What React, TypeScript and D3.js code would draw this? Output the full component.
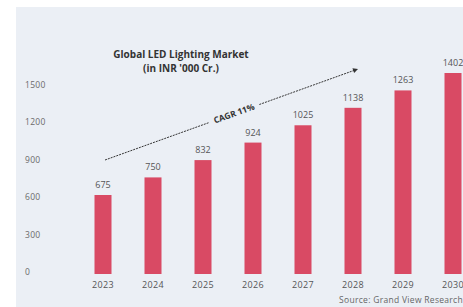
import React, { useRef, useEffect } from "react";
import * as d3 from "d3";

const years = ["2023", "2024", "2025", "2026", "2027", "2028", "2029", "2030"];
const values = [675, 750, 832, 924, 1025, 1138, 1263, 1402];
const yTicks = [0, 300, 600, 900, 1200, 1500];
const titleLines = ["Global LED Lighting Market", "(in INR '000 Cr.)"];
const cagrLabel = "CAGR 11%";
const source = "Source: Grand View Research";

const App = () => {
  const ref = useRef<SVGSVGElement>(null);

  useEffect(() => {
    const svg = d3.select(ref.current);
    svg.selectAll("*").remove();

    const width = 463;
    const height = 307;
    const font = "'Open Sans', sans-serif";

    svg.attr("width", width).attr("height", height);

    // panel
    svg
      .append("rect")
      .attr("x", 16)
      .attr("y", 7)
      .attr("width", width - 16)
      .attr("height", height - 7)
      .attr("fill", "#ebeff5");

    const x = d3.scaleBand().domain(years).range([78, 478]).paddingInner(0.66).paddingOuter(0.33);

    // axis labels
    const y = d3.scaleLinear().domain([0, 1500]).range([272, 85]);
    // bars grow evenly year to year in the original artwork -> log scale
    const yBar = d3.scaleLog().domain([675, 1402]).range([195, 73]);
    const base = 274;

    svg
      .append("g")
      .selectAll("text")
      .data(yTicks)
      .join("text")
      .attr("x", 25)
      .attr("y", (d) => y(d))
      .attr("dy", "0.35em")
      .attr("font-family", font)
      .attr("font-size", "8.5px")
      .attr("letter-spacing", "0.3px")
      .attr("fill", "#6a6a6a")
      .text((d) => d);

    svg
      .append("g")
      .selectAll("rect")
      .data(values)
      .join("rect")
      .attr("x", (d, i) => x(years[i]))
      .attr("y", (d) => yBar(d))
      .attr("width", x.bandwidth())
      .attr("height", (d) => base - yBar(d))
      .attr("fill", "#d94a64");

    svg
      .append("g")
      .selectAll("text")
      .data(values)
      .join("text")
      .attr("x", (d, i) => x(years[i]) + x.bandwidth() / 2)
      .attr("y", (d) => yBar(d) - 7)
      .attr("text-anchor", "middle")
      .attr("font-family", font)
      .attr("font-size", "9px")
      .attr("fill", "#555")
      .text((d) => d);

    svg
      .append("g")
      .selectAll("text")
      .data(years)
      .join("text")
      .attr("x", (d) => x(d) + x.bandwidth() / 2)
      .attr("y", 288)
      .attr("text-anchor", "middle")
      .attr("font-family", font)
      .attr("font-size", "9px")
      .attr("letter-spacing", "0.3px")
      .attr("fill", "#555")
      .text((d) => d);

    // title
    svg
      .append("text")
      .attr("x", 181)
      .attr("y", 58)
      .attr("text-anchor", "middle")
      .attr("font-family", font)
      .attr("font-size", "10px")
      .attr("font-weight", "bold")
      .attr("fill", "#333")
      .selectAll("tspan")
      .data(titleLines)
      .join("tspan")
      .attr("x", 181)
      .attr("dy", (d, i) => (i === 0 ? 0 : 14))
      .text((d) => d);

    // CAGR arrow
    const x0 = 105, y0 = 160, x1 = 358, y1 = 69;
    const angle = (Math.atan2(y1 - y0, x1 - x0) * 180) / Math.PI;
    const len = Math.hypot(x1 - x0, y1 - y0);
    const g = svg.append("g").attr("transform", `translate(${x0},${y0}) rotate(${angle})`);
    const gapA = len * 0.41, gapB = len * 0.61;
    g.append("line").attr("x1", 0).attr("x2", gapA).attr("y1", 0).attr("y2", 0);
    g.append("line").attr("x1", gapB).attr("x2", len - 3).attr("y1", 0).attr("y2", 0);
    g.selectAll("line")
      .attr("stroke", "#333")
      .attr("stroke-width", 0.9)
      .attr("stroke-dasharray", "2,1");
    g.append("path")
      .attr("d", `M${len},0 L${len - 5},-2.5 L${len - 5},2.5 Z`)
      .attr("fill", "#333");
    g.append("text")
      .attr("x", (gapA + gapB) / 2)
      .attr("y", 0)
      .attr("dy", "0.35em")
      .attr("text-anchor", "middle")
      .attr("font-family", font)
      .attr("font-size", "8.5px")
      .attr("font-weight", "bold")
      .attr("fill", "#333")
      .text(cagrLabel);

    svg
      .append("text")
      .attr("x", 463)
      .attr("y", 303)
      .attr("text-anchor", "end")
      .attr("font-family", font)
      .attr("font-size", "8.5px")
      .attr("letter-spacing", "0.3px")
      .attr("fill", "#666")
      .text(source);
  }, []);

  return <svg ref={ref} style={{ position: "absolute", left: 0, top: 0 }}></svg>;
};

export default App;
